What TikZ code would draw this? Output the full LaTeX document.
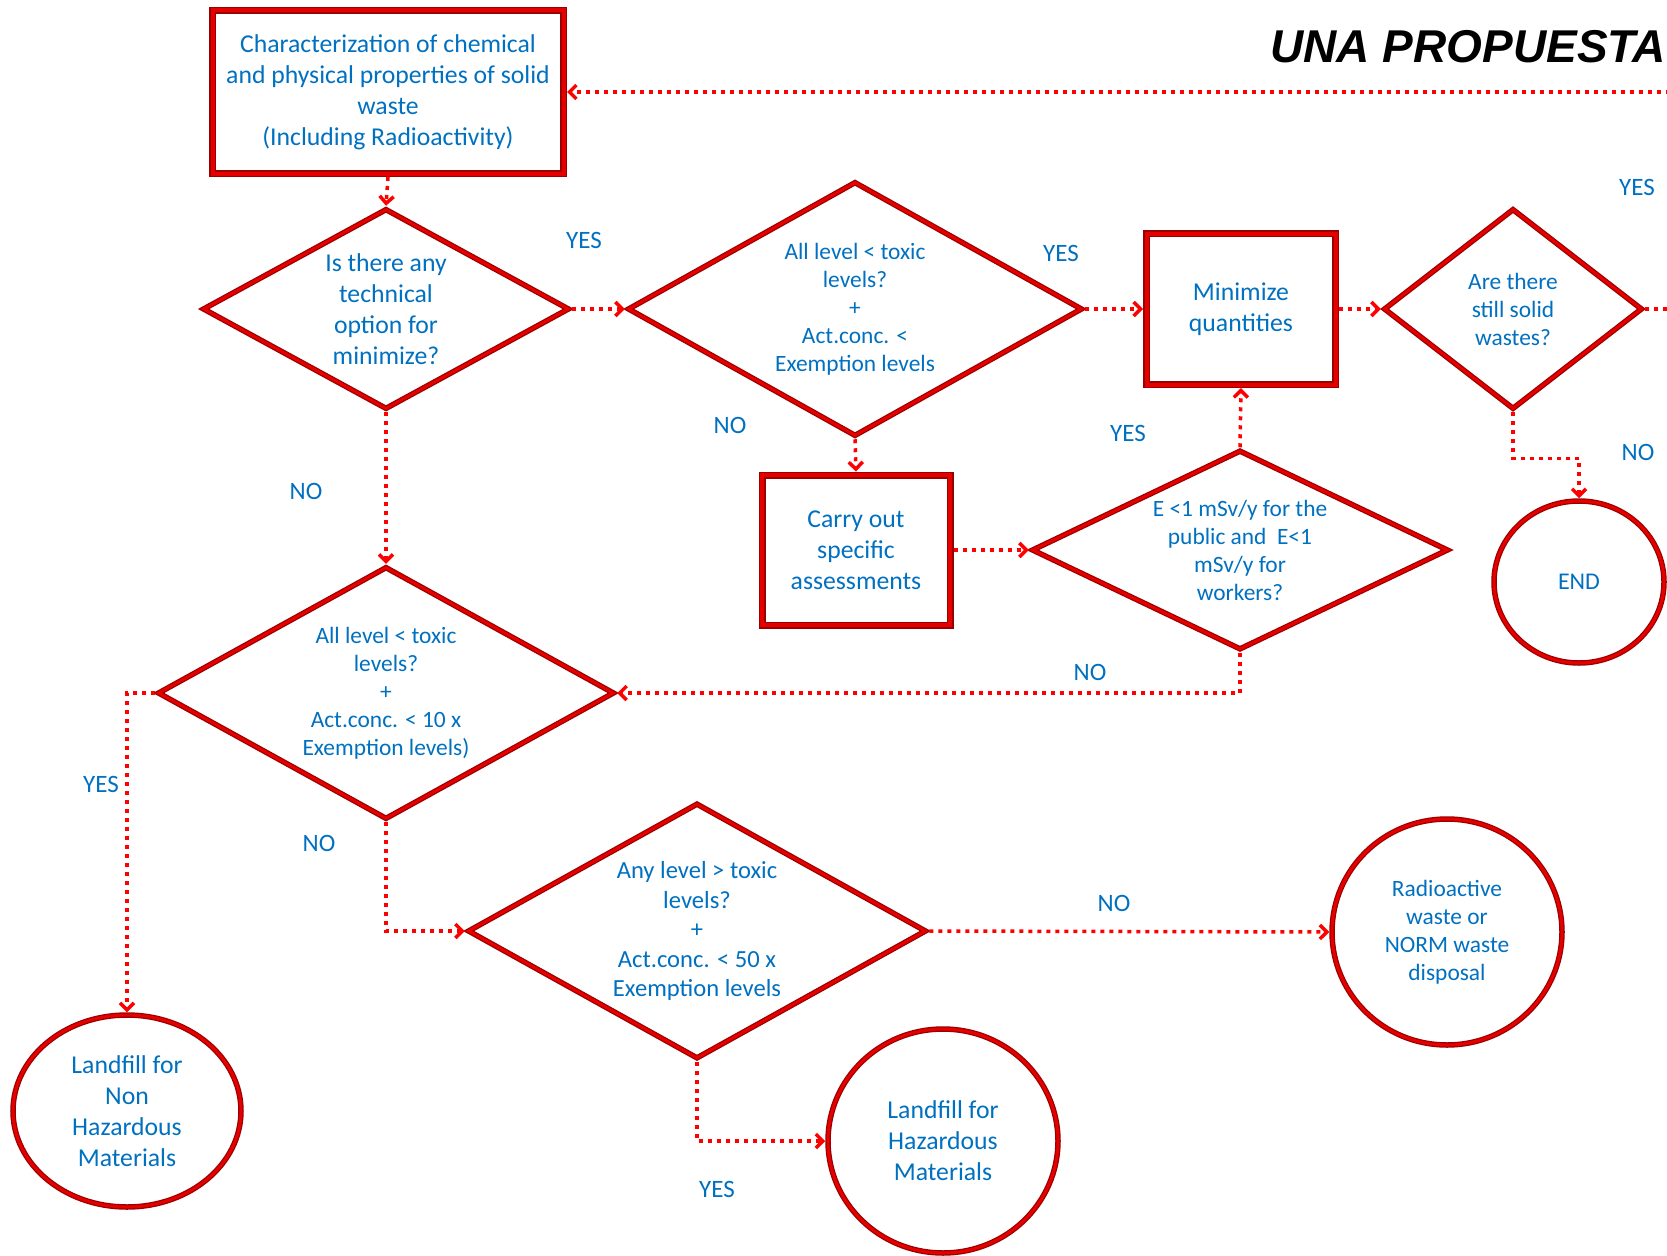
\documentclass[tikz,border=0pt]{standalone}
\usepackage{fontspec}
\setmainfont{Carlito}
\newfontfamily\titlefont{Liberation Sans}
\usetikzlibrary{shapes.geometric,arrows.meta}
\definecolor{txtblue}{HTML}{0070C0}
\definecolor{linered}{HTML}{FF0000}
\definecolor{darkred}{HTML}{9A0000}

\begin{document}
\begin{tikzpicture}[
    x=1pt,y=-1pt,
    every node/.style={font=\fontsize{25.7}{31}\selectfont,text=txtblue,align=center,inner sep=0pt},
    small/.style={font=\fontsize{23.4}{28}\selectfont},
    lbl/.style={font=\fontsize{25}{28}\selectfont},
    box/.style={rectangle,draw=darkred,line width=7pt,postaction={draw=red!90!black,line width=4pt}},
    dia/.style={diamond,draw=darkred,line width=5.5pt,postaction={draw=red!90!black,line width=3pt}},
    circ/.style={ellipse,draw=darkred,line width=5.5pt,postaction={draw=red!90!black,line width=3pt}},
    flow/.style={draw=linered,line width=3.5pt,dash pattern=on 4pt off 5pt,-{Straight Barb[length=7pt,width=14pt]}},
  ]
  \useasboundingbox (0,0) rectangle (1667,1255);
  \clip (0,0) rectangle (1667,1255);

  \node[font=\titlefont\bfseries\itshape\fontsize{46}{50}\selectfont,text=black,anchor=base east] (title) at (1666,63) {UNA PROPUESTA};

  % top row
  \node[box,minimum width=351,minimum height=163] (char) at (388,92)
    {Characterization of chemical\\and physical properties of solid\\waste\\(Including Radioactivity)};
  \node[dia,minimum width=367,minimum height=201,aspect=1.8] (q1) at (386,309)
    {Is there any\\technical\\option for\\minimize?};
  \node[dia,small,minimum width=455,minimum height=255,aspect=1.8] (q2) at (855,309)
    {All level < toxic\\levels?\\+\\Act.conc. <\\Exemption levels};
  \node[box,minimum width=189,minimum height=151] (mini) at (1241,309) {Minimize\\quantities};
  \node[dia,small,minimum width=259,minimum height=201,aspect=1.3] (q4) at (1513,309)
    {Are there\\still solid\\wastes?};
  \node[circ,font=\fontsize{24}{28}\selectfont,minimum width=170,minimum height=162] (endc) at (1579,582) {END};

  % middle row
  \node[box,minimum width=188,minimum height=150] (carry) at (856,550) {Carry out\\specific\\assessments};
  \node[dia,small,minimum width=417,minimum height=200,aspect=2.1] (q5) at (1240,550)
    {E <1 mSv/y for the\\public and~ E<1\\mSv/y for\\workers?};
  \node[dia,small,minimum width=457,minimum height=253,aspect=1.8] (q3) at (386,693)
    {All level < toxic\\levels?\\+\\Act.conc. < 10 x\\Exemption levels)};

  % bottom row
  \node[dia,font=\fontsize{24.6}{29.5}\selectfont,minimum width=459,minimum height=256,aspect=1.8] (q6) at (697,931)
    {Any level > toxic\\levels?\\+\\Act.conc. < 50 x\\Exemption levels};
  \node[circ,small,minimum width=230,minimum height=226] (rad) at (1447,932)
    {Radioactive\\waste or\\NORM waste\\disposal};
  \node[circ,minimum width=228,minimum height=192] (lfnon) at (127,1111)
    {Landfill for\\Non\\Hazardous\\Materials};
  \node[circ,minimum width=230,minimum height=224] (lfhaz) at (943,1141)
    {Landfill for\\Hazardous\\Materials};

  % connectors
  \coordinate (back) at (1720,200);
  \draw[flow] (char.south) -- (q1.north);
  \draw[flow] (q1.east) -- (q2.west);
  \draw[flow] (q2.east) -- (mini.west);
  \draw[flow] (mini.east) -- (q4.west);
  \draw[flow] (q4.east) -| (back) |- (char.east);
  \draw[flow] (q4.south) -- ++(0,46) -| (endc.north);
  \draw[flow] (q2.south) -- (carry.north);
  \draw[flow] (carry.east) -- (q5.west);
  \draw[flow] (q5.north) -- (mini.south);
  \draw[flow] (q5.south) |- (q3.east);
  \draw[flow] (q1.south) -- (q3.north);
  \draw[flow] (q3.west) -| (lfnon.north);
  \draw[flow] (q3.south) |- (q6.west);
  \draw[flow] (q6.east) -- (rad.west);
  \draw[flow] (q6.south) |- (lfhaz.west);

  % answers
  \foreach \n/\x/\y/\t in {la/584/240/YES, lb/1061/253/YES, lc/730/425/NO, ld/1128/433/YES,
      le/306/491/NO, lf/1090/672/NO, lg/101/784/YES, lh/319/843/NO, li/1114/903/NO,
      lj/717/1189/YES, lk/1637/187/YES, ll/1638/452/NO}
    \node[lbl] (\n) at (\x,\y) {\t};
\end{tikzpicture}
\end{document}
